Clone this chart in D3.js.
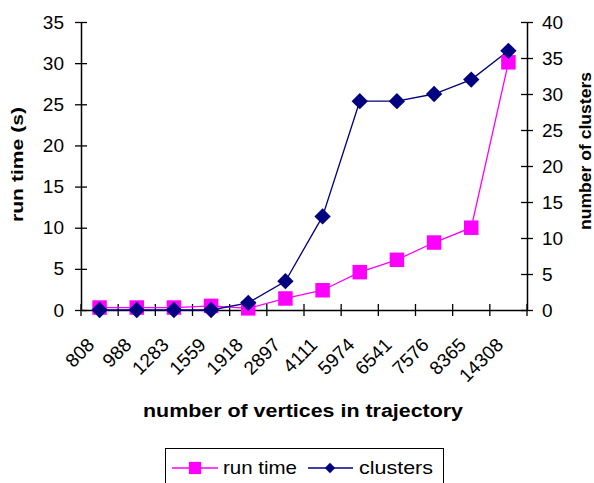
<!DOCTYPE html>
<html><head><meta charset="utf-8">
<script src="https://cdn.jsdelivr.net/npm/d3@7"></script>
<style>body{margin:0;background:#fff}svg{display:block}text{font-family:"Liberation Sans",Arial,sans-serif}</style>
</head><body><svg id="c" width="594" height="483"></svg>
<script>
const categories = ["808","988","1283","1559","1918","2897","4111","5974","6541","7576","8365","14308"];
const runTime = [0.3,0.3,0.3,0.5,0.2,1.4,2.4,4.6,6.1,8.2,10.0,30.1];
const clusters = [0,0,0,0,1,4,13,29,29,30,32,36];
const leftTicks = [0,5,10,15,20,25,30,35];
const rightTicks = [0,5,10,15,20,25,30,35,40];

const svg = d3.select("#c");
const L = 81, R = 527, T = 22, B = 310;
const x = d3.scaleBand().domain(categories).range([L, R]);
const yL = d3.scaleLinear().domain([0,35]).range([B, T]);
const yR = d3.scaleLinear().domain([0,40]).range([B, T]);

// axes
const gL = svg.append("g").attr("transform",`translate(${L},0)`)
  .call(d3.axisLeft(yL).tickValues(leftTicks).tickSizeInner(6).tickSizeOuter(0).tickPadding(11));
gL.selectAll(".tick line").attr("x1",6);
const gR = svg.append("g").attr("transform",`translate(${R},0)`)
  .call(d3.axisRight(yR).tickValues(rightTicks).tickSizeInner(6).tickSizeOuter(0).tickPadding(9));
gR.selectAll(".tick line").attr("x1",-6);
const gX = svg.append("g").attr("transform",`translate(0,${B})`)
  .call(d3.axisBottom(x).tickSize(0).tickFormat(""));
const bounds = categories.map(c => x(c)).concat([R]);
gX.selectAll(".bnd").data(bounds).enter().append("line")
  .attr("x1",d=>d).attr("x2",d=>d).attr("y1",-6).attr("y2",6).attr("stroke","#000").attr("stroke-width",1.3);
[gL,gR,gX].forEach(g=>{g.selectAll("path.domain").attr("stroke","#000").attr("stroke-width",1.5);
  g.selectAll(".tick line").attr("stroke","#000").attr("stroke-width",1.3);
  g.selectAll("text").attr("font-size",19).attr("fill","#000");});

// x labels rotated
svg.append("g").selectAll("text").data(categories).enter().append("text")
  .attr("transform",d=>`translate(${x(d)+x.bandwidth()/2-4},${B+36}) rotate(-45)`)
  .attr("text-anchor","end").attr("font-size",19).text(d=>d);

// titles
svg.append("text").attr("transform",`translate(23,164.5) rotate(-90)`).attr("text-anchor","middle")
  .attr("font-size",17).attr("font-weight","bold")
  .attr("textLength",115).attr("lengthAdjust","spacingAndGlyphs").text("run time (s)");
svg.append("text").attr("transform",`translate(591,151) rotate(-90)`).attr("text-anchor","middle")
  .attr("font-size",17).attr("font-weight","bold")
  .attr("textLength",158).attr("lengthAdjust","spacingAndGlyphs").text("number of clusters");
svg.append("text").attr("x",303).attr("y",417).attr("text-anchor","middle")
  .attr("font-size",18).attr("font-weight","bold")
  .attr("textLength",320).attr("lengthAdjust","spacingAndGlyphs").text("number of vertices in trajectory");

const cx = d => x(d)+x.bandwidth()/2;
// run time line
svg.append("path").datum(runTime).attr("fill","none").attr("stroke","#ff00ff").attr("stroke-width",1.3)
  .attr("d", d3.line().x((d,i)=>cx(categories[i])).y(d=>yL(d)));
// clusters line
svg.append("path").datum(clusters).attr("fill","none").attr("stroke","#000080").attr("stroke-width",1.3)
  .attr("d", d3.line().x((d,i)=>cx(categories[i])).y(d=>yR(d)));
// markers
const sq = d3.symbol().type(d3.symbolSquare).size(210);
const dm = d3.symbol().type(d3.symbolDiamond2).size(170);
svg.append("g").selectAll("path").data(runTime).enter().append("path")
  .attr("d",sq).attr("fill","#ff00ff")
  .attr("transform",(d,i)=>`translate(${cx(categories[i])},${yL(d)})`);
svg.append("g").selectAll("path").data(clusters).enter().append("path")
  .attr("d",dm).attr("fill","#000080")
  .attr("transform",(d,i)=>`translate(${cx(categories[i])},${yR(d)})`);

// legend
const lg = svg.append("g");
lg.append("rect").attr("x",165.5).attr("y",448.5).attr("width",278).attr("height",40)
  .attr("fill","#fff").attr("stroke","#000").attr("stroke-width",1);
lg.append("line").attr("x1",172).attr("x2",218).attr("y1",468).attr("y2",468).attr("stroke","#ff00ff").attr("stroke-width",1.3);
lg.append("path").attr("d",d3.symbol().type(d3.symbolSquare).size(150)).attr("fill","#ff00ff").attr("transform","translate(195,468)");
lg.append("text").attr("x",223).attr("y",474).attr("font-size",19)
  .attr("textLength",74).attr("lengthAdjust","spacingAndGlyphs").text("run time");
lg.append("line").attr("x1",308).attr("x2",353).attr("y1",468).attr("y2",468).attr("stroke","#000080").attr("stroke-width",1.3);
lg.append("path").attr("d",d3.symbol().type(d3.symbolDiamond2).size(70)).attr("fill","#000080").attr("transform","translate(330,468)");
lg.append("text").attr("x",359).attr("y",474).attr("font-size",19)
  .attr("textLength",74).attr("lengthAdjust","spacingAndGlyphs").text("clusters");
</script></body></html>
